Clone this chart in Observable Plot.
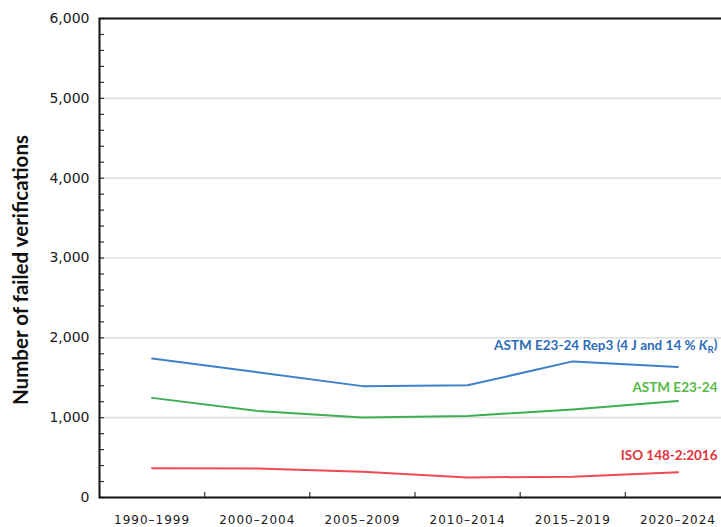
<!DOCTYPE html>
<html>
<head>
<meta charset="utf-8">
<script src="https://cdn.jsdelivr.net/npm/d3@7"></script>
<script src="https://cdn.jsdelivr.net/npm/@observablehq/plot@0.6"></script>
<style>
  html, body { margin: 0; padding: 0; background: #fff; overflow: hidden; width: 721px; height: 527px; }
  #chart svg { max-width: none !important; }
</style>
</head>
<body>
<div id="chart"></div>
<script>
// Reporting periods (x categories)
const periods = ["1990–1999", "2000–2004", "2005–2009", "2010–2014", "2015–2019", "2020–2024"];

// Number of failed verifications per period
const astmRep3 = [1740, 1570, 1395, 1405, 1705, 1635];
const astmE23 = [1248, 1085, 1002, 1022, 1102, 1210];
const iso148 = [365, 362, 322, 252, 260, 315];

// Series labels
const seriesLabels = ["ASTM E23-24 Rep3 (4 J and 14 % KR)", "ASTM E23-24", "ISO 148-2:2016"];

// Y axis ticks
const yTicks = [0, 1000, 2000, 3000, 4000, 5000, 6000];
const yMinor = d3.range(0, 6001, 200);

const yTitle = "Number of failed verifications";

// Layout
const W = 735, H = 527;
const M = {top: 18, right: 5, bottom: 30, left: 99};
const innerW = W - M.left - M.right;
const innerH = H - M.top - M.bottom;

const lineColors = ["#3f80c9", "#3fae52", "#ee4a50"];
const textColors = ["#2b6db8", "#58b947", "#e3333b"];
// label anchor heights in data units
const labelY = [1905, 1370, 530];

const series = [astmRep3, astmE23, iso148];
const boundaries = periods.slice(1).map((_, i) => i + 0.5);

const chart = Plot.plot({
  width: W,
  height: H,
  marginTop: M.top,
  marginRight: M.right,
  marginBottom: M.bottom,
  marginLeft: M.left,
  style: {fontFamily: "DejaVu Sans", background: "#fff", color: "#1a1a1a", maxWidth: "none"},
  x: {type: "linear", domain: [-0.5, periods.length - 0.5]},
  y: {domain: [0, 6000]},
  marks: [
    Plot.ruleY(yTicks.filter(v => v > 0 && v < 6000), {stroke: "#e1e1e1", strokeWidth: 1.6}),
    Plot.ruleY(yMinor, {insetRight: innerW - 5, stroke: "#333", strokeWidth: 1.2}),
    Plot.ruleX(boundaries, {insetTop: innerH - 5, stroke: "#333", strokeWidth: 1.2}),
    ...series.map((vals, k) => Plot.line(vals, {
      x: (d, i) => i, y: d => d, stroke: lineColors[k], strokeWidth: 2
    })),
    ...series.map((vals, k) => Plot.text([seriesLabels[k]], {
      x: periods.length - 0.5, y: labelY[k], text: d => d,
      textAnchor: "end", dx: -13, fill: textColors[k],
      fontFamily: "Lato", fontWeight: "bold", fontSize: 13.5
    })),
    Plot.axisY({ticks: yTicks, tickSize: 0, tickPadding: 10, tickFormat: d3.format(","), fontSize: 14, label: null}),
    Plot.axisX({ticks: d3.range(periods.length), tickSize: 0, tickPadding: 18,
      tickFormat: i => periods[i], fontSize: 12, label: null}),
    Plot.text([yTitle], {
      frameAnchor: "left", textAnchor: "middle", rotate: -90, dx: -78, dy: 12, text: d => d,
      fontFamily: "Lato", fontWeight: "bold", fontSize: 20.5, fill: "#111"
    }),
    Plot.frame({stroke: "#111", strokeWidth: 2})
  ]
});

// Letter spacing on period labels
d3.select(chart).selectAll('[aria-label="x-axis tick label"] text').style("letter-spacing", "1px");

// Italic K with subscript R in the Rep3 label
d3.select(chart).selectAll("text").filter(function () {
  return this.textContent === seriesLabels[0];
}).each(function () {
  const t = d3.select(this);
  t.text(null);
  t.append("tspan").text("ASTM E23-24 Rep3 (4 J and 14 % ");
  t.append("tspan").style("font-style", "italic").text("K");
  t.append("tspan").attr("dy", "0.3em").style("font-size", "0.72em").text("R");
  t.append("tspan").attr("dy", "-0.3em").text(")");
});

document.getElementById("chart").append(chart);
</script>
</body>
</html>
